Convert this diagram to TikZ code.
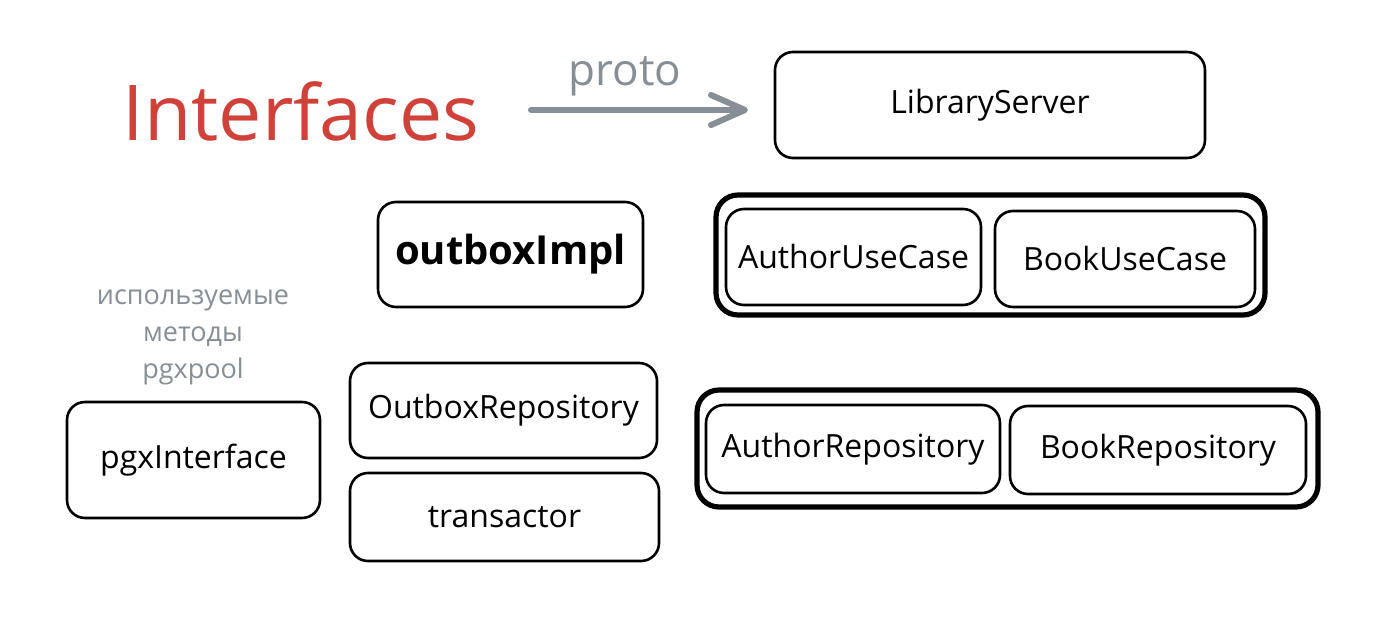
\documentclass[tikz,border=0pt]{standalone}
\usepackage{fontspec}
\setmainfont{Open Sans}
\usetikzlibrary{arrows.meta}
\definecolor{ifred}{RGB}{208,65,58}
\definecolor{ifgray}{RGB}{134,142,150}
\begin{document}
\begin{tikzpicture}[x=0.5pt, y=-0.5pt, line join=round, line cap=round,
	box/.style 2 args={draw, rounded corners=9pt, line width=1.3pt, inner sep=0pt,
		minimum width=#1*0.5pt, minimum height=#2*0.5pt, font=\fontsize{16}{19}\selectfont},
	outerbox/.style 2 args={draw, rounded corners=11pt, line width=2.6pt, inner sep=0pt,
		minimum width=#1*0.5pt, minimum height=#2*0.5pt}]
	\fill[white] (0,0) rectangle (1380,630);
	\useasboundingbox (0,0) rectangle (1380,630);
	% title and proto arrow
	\node[text=ifred, font=\fontsize{38.5}{42}\selectfont] (ifaces) at (301,111) {Interfaces};
	\coordinate (protoS) at (531,110);
	\coordinate (protoE) at (748,110);
	\draw[ifgray, line width=3pt, -{Straight Barb[length=17pt, width=15pt, round]}] (protoS) -- (protoE);
	\node[text=ifgray, font=\fontsize{22}{26}\selectfont] (protolbl) at (625,76) {proto};
	% top row
	\node[box={430}{106}] (libsrv) at (990,105) {LibraryServer};
	\node[box={265}{105}, font=\bfseries\fontsize{20}{24}\selectfont] (outimpl) at (510.5,254.5) {outboxImpl};
	\node[outerbox={549}{120}] (usecases) at (990.5,255) {};
	\node[box={255}{96}] (authoruc) at (853.5,257) {AuthorUseCase};
	\node[box={260}{96}] (bookuc) at (1125,259) {BookUseCase};
	% left column
	\node[text=ifgray, align=center, font=\fontsize{13.5}{18.5}\selectfont] (pgxnote) at (193,337)
		{используемые\\методы\\pgxpool};
	\node[box={253}{116}] (pgxiface) at (193.5,460) {pgxInterface};
	\node[box={307}{95}] (outrepo) at (503.5,410.5) {OutboxRepository};
	\node[box={309}{88}] (transactor) at (504.5,517) {transactor};
	% repositories
	\node[outerbox={621}{117}] (repos) at (1007.5,448.5) {};
	\node[box={294}{88}] (authorrepo) at (853,449) {AuthorRepository};
	\node[box={296}{88}] (bookrepo) at (1158,450) {BookRepository};
\end{tikzpicture}
\end{document}
